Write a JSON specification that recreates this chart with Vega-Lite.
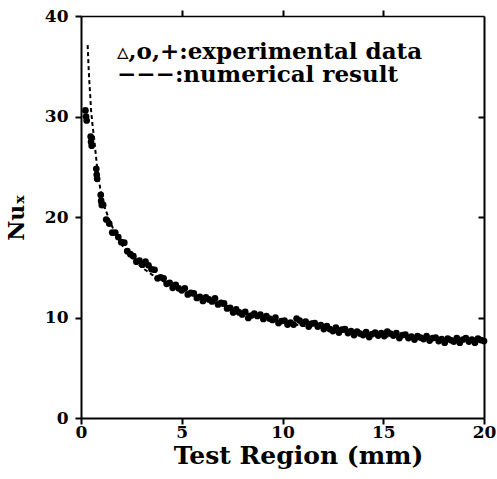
{
  "$schema": "https://vega.github.io/schema/vega-lite/v6.json",
  "width": 403,
  "height": 402,
  "autosize": {"type": "none"},
  "padding": {"left": 81, "top": 16, "right": 13, "bottom": 61},
  "background": "white",
  "config": {
    "view": {"stroke": null},
    "axis": {
      "domain": true,
      "domainColor": "black",
      "domainWidth": 2,
      "tickColor": "black",
      "tickWidth": 2,
      "tickSize": 6,
      "grid": false,
      "labelFlush": false,
      "labelFont": "DejaVu Serif",
      "labelFontWeight": "bold",
      "labelFontSize": 17,
      "labelColor": "black",
      "titleFont": "DejaVu Serif",
      "titleFontWeight": "bold",
      "titleColor": "black"
    }
  },
  "datasets": {
    "exp": [
      {"x": 0.22, "y": 30.6}, {"x": 0.25, "y": 30.0}, {"x": 0.28, "y": 29.6},
      {"x": 0.48, "y": 28.0}, {"x": 0.5, "y": 27.5}, {"x": 0.53, "y": 27.1},
      {"x": 0.76, "y": 24.8}, {"x": 0.78, "y": 24.2}, {"x": 0.8, "y": 23.8},
      {"x": 0.98, "y": 22.2}, {"x": 1.0, "y": 21.6}, {"x": 1.03, "y": 21.2},
      {"x": 1.1, "y": 21.2}, {"x": 1.25, "y": 19.75}, {"x": 1.4, "y": 19.35}, {"x": 1.55, "y": 18.45},
      {"x": 1.7, "y": 18.45}, {"x": 1.85, "y": 18.0}, {"x": 2.0, "y": 17.5}, {"x": 2.15, "y": 17.45},
      {"x": 2.3, "y": 16.6}, {"x": 2.45, "y": 16.3}, {"x": 2.6, "y": 16.1}, {"x": 2.75, "y": 15.55},
      {"x": 2.9, "y": 15.65}, {"x": 3.05, "y": 15.25}, {"x": 3.2, "y": 15.55}, {"x": 3.35, "y": 15.2},
      {"x": 3.5, "y": 14.8}, {"x": 3.65, "y": 14.75}, {"x": 3.8, "y": 13.9}, {"x": 3.95, "y": 14.0},
      {"x": 4.1, "y": 13.9}, {"x": 4.25, "y": 13.35}, {"x": 4.4, "y": 13.45}, {"x": 4.55, "y": 12.95},
      {"x": 4.7, "y": 13.25}, {"x": 4.85, "y": 12.9}, {"x": 5.0, "y": 12.7}, {"x": 5.15, "y": 12.9},
      {"x": 5.3, "y": 12.3}, {"x": 5.45, "y": 12.45}, {"x": 5.6, "y": 12.4}, {"x": 5.75, "y": 11.95},
      {"x": 5.9, "y": 12.05}, {"x": 6.05, "y": 11.65}, {"x": 6.2, "y": 12.0}, {"x": 6.35, "y": 11.8},
      {"x": 6.5, "y": 11.6}, {"x": 6.65, "y": 11.9}, {"x": 6.8, "y": 11.3}, {"x": 6.95, "y": 11.45},
      {"x": 7.1, "y": 11.4}, {"x": 7.25, "y": 10.9}, {"x": 7.4, "y": 10.95}, {"x": 7.55, "y": 10.5},
      {"x": 7.7, "y": 10.8}, {"x": 7.85, "y": 10.5}, {"x": 8.0, "y": 10.3}, {"x": 8.15, "y": 10.55},
      {"x": 8.3, "y": 9.95}, {"x": 8.45, "y": 10.2}, {"x": 8.6, "y": 10.4}, {"x": 8.75, "y": 10.15},
      {"x": 8.9, "y": 10.3}, {"x": 9.05, "y": 9.85}, {"x": 9.2, "y": 10.15}, {"x": 9.35, "y": 9.9},
      {"x": 9.5, "y": 9.75}, {"x": 9.65, "y": 10.0}, {"x": 9.8, "y": 9.45}, {"x": 9.95, "y": 9.65},
      {"x": 10.1, "y": 9.7}, {"x": 10.25, "y": 9.3}, {"x": 10.4, "y": 9.5}, {"x": 10.55, "y": 9.3},
      {"x": 10.7, "y": 9.9}, {"x": 10.85, "y": 9.7}, {"x": 11.0, "y": 9.4}, {"x": 11.15, "y": 9.6},
      {"x": 11.3, "y": 9.1}, {"x": 11.45, "y": 9.4}, {"x": 11.6, "y": 9.45}, {"x": 11.75, "y": 9.1},
      {"x": 11.9, "y": 9.25}, {"x": 12.05, "y": 8.85}, {"x": 12.2, "y": 9.15}, {"x": 12.35, "y": 8.85},
      {"x": 12.5, "y": 8.65}, {"x": 12.65, "y": 9.0}, {"x": 12.8, "y": 8.5}, {"x": 12.95, "y": 8.8},
      {"x": 13.1, "y": 8.85}, {"x": 13.25, "y": 8.45}, {"x": 13.4, "y": 8.65}, {"x": 13.55, "y": 8.25},
      {"x": 13.7, "y": 8.6}, {"x": 13.85, "y": 8.4}, {"x": 14.0, "y": 8.25}, {"x": 14.15, "y": 8.55},
      {"x": 14.3, "y": 8.05}, {"x": 14.45, "y": 8.35}, {"x": 14.6, "y": 8.5}, {"x": 14.75, "y": 8.2},
      {"x": 14.9, "y": 8.45}, {"x": 15.05, "y": 8.15}, {"x": 15.2, "y": 8.6}, {"x": 15.35, "y": 8.4},
      {"x": 15.5, "y": 8.2}, {"x": 15.65, "y": 8.45}, {"x": 15.8, "y": 7.95}, {"x": 15.95, "y": 8.25},
      {"x": 16.1, "y": 8.3}, {"x": 16.25, "y": 7.95}, {"x": 16.4, "y": 8.1}, {"x": 16.55, "y": 7.8},
      {"x": 16.7, "y": 8.15}, {"x": 16.85, "y": 8.0}, {"x": 17.0, "y": 7.85}, {"x": 17.15, "y": 8.15},
      {"x": 17.3, "y": 7.7}, {"x": 17.45, "y": 7.95}, {"x": 17.6, "y": 8.0}, {"x": 17.75, "y": 7.65},
      {"x": 17.9, "y": 7.85}, {"x": 18.05, "y": 7.5}, {"x": 18.2, "y": 7.9}, {"x": 18.35, "y": 7.75},
      {"x": 18.5, "y": 7.6}, {"x": 18.65, "y": 7.95}, {"x": 18.8, "y": 7.5}, {"x": 18.95, "y": 7.8},
      {"x": 19.1, "y": 7.95}, {"x": 19.25, "y": 7.6}, {"x": 19.4, "y": 7.8}, {"x": 19.55, "y": 7.5},
      {"x": 19.7, "y": 7.9}, {"x": 19.85, "y": 7.75}, {"x": 20.0, "y": 7.65}
    ],
    "num": [
      {"x": 0.33, "y": 37.1}, {"x": 0.37, "y": 35.2}, {"x": 0.41, "y": 33.6}, {"x": 0.46, "y": 32.0},
      {"x": 0.5, "y": 30.6}, {"x": 0.58, "y": 29.0}, {"x": 0.66, "y": 27.7}, {"x": 0.75, "y": 25.9},
      {"x": 0.83, "y": 24.4}, {"x": 0.95, "y": 22.9}, {"x": 1.08, "y": 21.7}, {"x": 1.2, "y": 20.8},
      {"x": 1.39, "y": 19.8}, {"x": 1.6, "y": 18.8}, {"x": 1.8, "y": 18.0}, {"x": 2.0, "y": 17.3},
      {"x": 2.25, "y": 16.6}, {"x": 2.5, "y": 16.0}, {"x": 2.75, "y": 15.5}, {"x": 3.0, "y": 15.0},
      {"x": 3.5, "y": 14.3}, {"x": 4.0, "y": 13.7}, {"x": 4.5, "y": 13.2}, {"x": 5.0, "y": 12.7},
      {"x": 5.5, "y": 12.3}, {"x": 6.0, "y": 11.9}, {"x": 7.0, "y": 11.2}, {"x": 8.0, "y": 10.5},
      {"x": 9.0, "y": 10.0}, {"x": 10.0, "y": 9.5}, {"x": 11.0, "y": 9.2}, {"x": 12.0, "y": 8.9},
      {"x": 13.0, "y": 8.6}, {"x": 14.0, "y": 8.35}, {"x": 15.0, "y": 8.15}, {"x": 16.0, "y": 8.0},
      {"x": 17.0, "y": 7.85}, {"x": 18.0, "y": 7.75}, {"x": 19.0, "y": 7.65}, {"x": 20.0, "y": 7.6}
    ],
    "legend": [
      {"x": 1.79, "y": 36.4, "label": "▵,o,+:experimental data"},
      {"x": 1.79, "y": 34.1, "label": "−−−:numerical result"}
    ]
  },
  "layer": [
    {
      "data": {"name": "exp"},
      "mark": {"type": "circle", "size": 45, "color": "black", "opacity": 1},
      "encoding": {
        "x": {
          "field": "x", "type": "quantitative",
          "scale": {"domain": [0, 20], "nice": false, "zero": true},
          "axis": {
            "orient": "bottom", "values": [0, 5, 10, 15, 20], "labelPadding": 0,
            "title": "Test Region  (mm)", "titleFontSize": 25, "titlePadding": 3, "titleX": 217
          }
        },
        "y": {
          "field": "y", "type": "quantitative",
          "scale": {"domain": [0, 40], "nice": false},
          "axis": {
            "orient": "left", "values": [0, 10, 20, 30, 40], "labelPadding": 7,
            "title": "Nuₓ", "titleFontSize": 22, "titlePadding": 16
          }
        }
      }
    },
    {
      "data": {"name": "num"},
      "mark": {"type": "line", "color": "black", "strokeWidth": 2, "strokeDash": [4, 3]},
      "encoding": {
        "x": {
          "field": "x", "type": "quantitative",
          "scale": {"domain": [0, 20], "nice": false},
          "axis": {"orient": "top", "values": [5, 10, 15], "labels": false, "title": null, "domainWidth": 1.5}
        },
        "y": {
          "field": "y", "type": "quantitative",
          "scale": {"domain": [0, 40], "nice": false},
          "axis": {"orient": "right", "values": [10, 20, 30], "labels": false, "title": null, "tickSize": -6}
        }
      }
    },
    {
      "data": {"name": "legend"},
      "mark": {"type": "text", "align": "left", "baseline": "middle", "font": "DejaVu Serif", "fontWeight": "bold", "fontSize": 23, "color": "black"},
      "encoding": {
        "x": {"field": "x", "type": "quantitative", "axis": null},
        "y": {"field": "y", "type": "quantitative", "axis": null},
        "text": {"field": "label"}
      }
    }
  ],
  "resolve": {"axis": {"x": "independent", "y": "independent"}}
}
